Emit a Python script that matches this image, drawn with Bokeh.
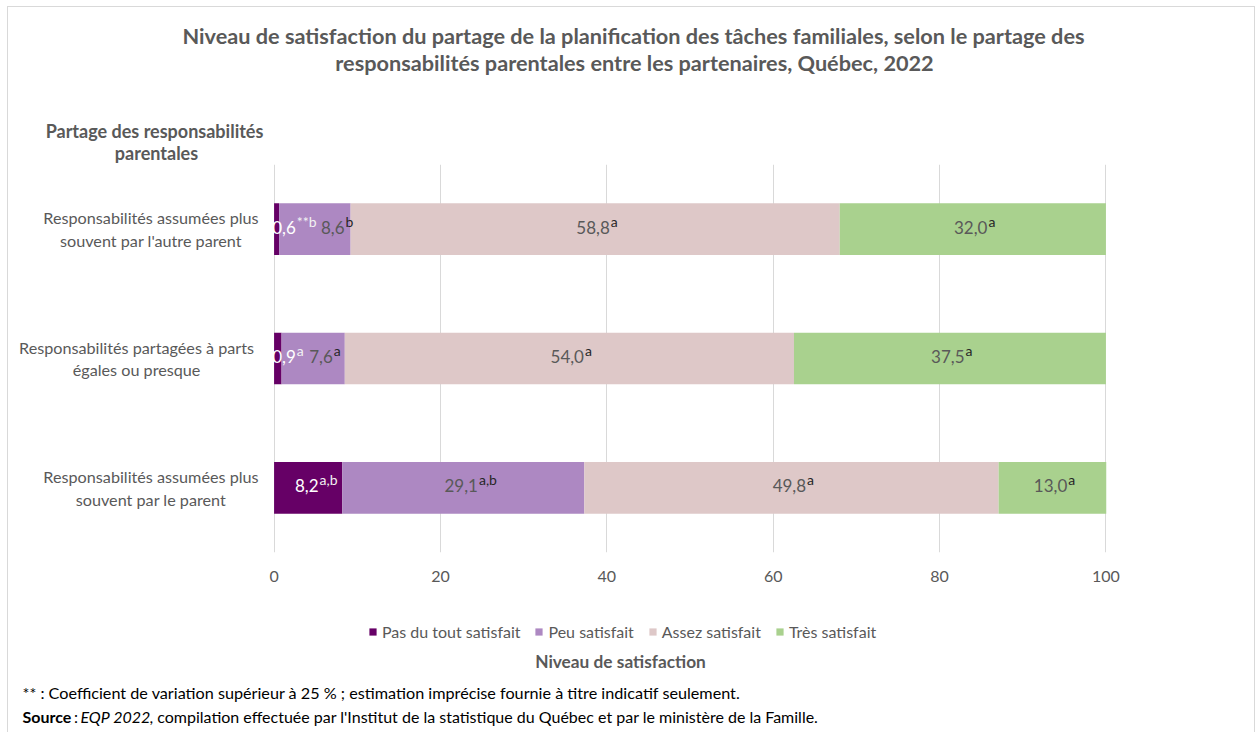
from bokeh.plotting import figure
from bokeh.layouts import column, row
from bokeh.models import (FactorRange, Range1d, Legend, LegendItem,
                          ColumnDataSource, FixedTicker)
from bokeh.core.properties import value
from bokeh.embed import file_html
from bokeh.resources import INLINE

# ---------------- data ----------------
categories = ["Responsabilités assumées plus\nsouvent par l'autre parent",
              "Responsabilités partagées à parts\négales ou presque",
              "Responsabilités assumées plus\nsouvent par le parent"]
levels = ["Pas du tout satisfait", "Peu satisfait", "Assez satisfait", "Très satisfait"]
pas_du_tout = [0.6, 0.9, 8.2]
peu = [8.6, 7.6, 29.1]
assez = [58.8, 54.0, 49.8]
tres = [32.0, 37.5, 13.0]
sup_pas = ["**b", "a", "a,b"]
sup_peu = ["b", "a", "a,b"]
sup_assez = ["a", "a", "a"]
sup_tres = ["a", "a", "a"]
x_ticks = [0, 20, 40, 60, 80, 100]

title_lines = ["Niveau de satisfaction du partage de la planification des tâches familiales, selon le partage des",
               "responsabilités parentales entre les partenaires, Québec, 2022"]
y_title_lines = ["Partage des responsabilités", "parentales"]
x_title = "Niveau de satisfaction"
note = "** : Coefficient de variation supérieur à 25 % ; estimation imprécise fournie à titre indicatif seulement."
source_parts = ["Source", ":", "EQP 2022",
                ", compilation effectuée par l'Institut de la statistique du Québec et par le ministère de la Famille."]

colors = ["#660066", "#AD88C2", "#DEC8C8", "#A9D18E"]
label_colors = ["#FFFFFF", "#595959", "#595959", "#595959"]
sup_colors = ["#F2F2F2", "#262626", "#262626", "#262626"]

FONT = "Lato"
GRAY = "#595959"

# ---------------- page geometry (pixels) ----------------
W, H = 1258, 732
FL, FR, FT, FB = 273, 1106, 164, 552     # plot frame edges on the page
MID_BOTTOM = 604                          # bottom of the middle row
PAD_L = 12                                # room for the "0" tick label
LW = FL - PAD_L                           # width of the category-label strip
CAT_RIGHT = 255                           # right edge of the category label blocks
CAT_SIZE = 16.2

def blank(width, height, x_range, y_range, mb_bottom=0):
    f = figure(width=width, height=height, output_backend="svg", toolbar_location=None,
               x_range=x_range, y_range=y_range, x_axis_location=None, y_axis_location=None,
               min_border_left=0, min_border_right=0, min_border_top=0,
               min_border_bottom=mb_bottom)
    f.outline_line_color = None
    f.grid.visible = False
    f.border_fill_color = None
    f.background_fill_color = None
    return f

# ---------------- main chart ----------------
p = figure(width=W - LW, height=MID_BOTTOM - FT, output_backend="svg", toolbar_location=None,
           y_range=FactorRange(factors=list(reversed(categories))),
           x_range=Range1d(-0.07, 100.07),
           min_border_left=PAD_L, min_border_right=W - FR,
           min_border_top=0, min_border_bottom=MID_BOTTOM - FB)
p.outline_line_color = None
p.border_fill_color = None
p.background_fill_color = None

series = [pas_du_tout, peu, assez, tres]
sups = [sup_pas, sup_peu, sup_assez, sup_tres]
keys = ["s0", "s1", "s2", "s3"]
src = ColumnDataSource(dict(cat=categories, **{k: v for k, v in zip(keys, series)}))
rends = p.hbar_stack(keys, y="cat", height=0.40, color=colors, source=src, line_color=None)

p.xaxis.ticker = FixedTicker(ticks=x_ticks)
p.xaxis.axis_line_color = None
p.xaxis.major_tick_line_color = None
p.xaxis.minor_tick_line_color = None
p.xaxis.major_label_text_font = FONT
p.xaxis.major_label_text_font_size = "16px"
p.xaxis.major_label_text_color = GRAY
p.xaxis.major_label_standoff = 12
p.yaxis.visible = False
p.xgrid.grid_line_color = "#D9D9D9"
p.ygrid.grid_line_color = None

# data labels: value centred on its segment, pushed right if it would overlap
px_per_unit = (FR - FL) / 100.0
MAIN_SIZE, SUP_SIZE = 17, 14
def est_w(s, size):
    w = 0.0
    for ch in s:
        if ch.isdigit():
            w += 0.50 * size
        elif ch == ",":
            w += 0.22 * size
        elif ch == "*":
            w += 0.42 * size
        else:
            w += 0.52 * size
    return w

main_x, main_y, main_t, main_c = [], [], [], []
sup_x, sup_y, sup_t, sup_c = [], [], [], []
for i, cat in enumerate(categories):
    left = 0.0
    limit_px = 1.0
    for j in range(4):
        v = series[j][i]
        txt = f"{v:.1f}".replace(".", ",")
        mw = est_w(txt, MAIN_SIZE)
        sw = est_w(sups[j][i], SUP_SIZE)
        center_px = (left + v / 2) * px_per_unit
        start_px = max(center_px - mw / 2, limit_px)
        anchor = (start_px + mw) / px_per_unit
        main_x.append(anchor); main_y.append(cat); main_t.append(txt); main_c.append(label_colors[j])
        sup_x.append(anchor); sup_y.append(cat); sup_t.append(sups[j][i]); sup_c.append(sup_colors[j])
        limit_px = start_px + mw + sw + 9
        left += v

p.text(x=main_x, y=main_y, text=main_t, text_color=main_c,
       text_font=value(FONT), text_font_size=f"{MAIN_SIZE}px",
       text_align="right", text_baseline="middle", y_offset=-2)
p.text(x=sup_x, y=sup_y, text=sup_t, text_color=sup_c,
       text_font=value(FONT), text_font_size=f"{SUP_SIZE}px",
       text_align="left", text_baseline="middle", x_offset=1, y_offset=-8)

# ---------------- category labels (share the chart's categorical scale) ----------------
# each two-line block ends at CAT_RIGHT, its lines centred within the block
cat_x = [CAT_RIGHT - max(len(s) for s in c.split("\n")) * 0.445 * CAT_SIZE / 2 for c in categories]
lf = blank(LW, MID_BOTTOM - FT, Range1d(0, LW), p.y_range, mb_bottom=MID_BOTTOM - FB)
lf.text(x=cat_x, y=categories, text=categories,
        text_font=value(FONT), text_font_size=f"{CAT_SIZE}px", text_color=GRAY,
        text_align="center", text_baseline="middle", text_line_height=1.2)

# ---------------- top band: title and y-axis title ----------------
top = blank(W, FT, Range1d(0, W), Range1d(FT, 0))
top.text(x=[633, 634], y=[35, 62], text=title_lines,
         text_font=value(FONT), text_font_size="21.7px", text_font_style="bold",
         text_color=GRAY, text_align="center", text_baseline="middle")
top.text(x=[154, 156], y=[130, 152], text=y_title_lines,
         text_font=value(FONT), text_font_size="18px", text_font_style="bold",
         text_color=GRAY, text_align="center", text_baseline="middle")

# ---------------- bottom band: legend, x-axis title, notes ----------------
bot = blank(W, H - MID_BOTTOM, Range1d(0, W), Range1d(H, MID_BOTTOM))
nan = float("nan")
dummy = [bot.hbar(y=[nan], right=[nan], height=1, fill_color=c, line_color=None) for c in colors]
legend = Legend(items=[LegendItem(label=levels[k], renderers=[dummy[k]]) for k in range(4)],
                orientation="horizontal", location=(368, H - 641),
                border_line_color=None, background_fill_alpha=0,
                label_text_font=FONT, label_text_font_size="16px", label_text_color=GRAY,
                glyph_width=9, glyph_height=9, label_standoff=5, spacing=14,
                padding=0, margin=0)
bot.add_layout(legend, "center")
bot.text(x=[620], y=[661], text=[x_title], text_font=value(FONT), text_font_size="17.3px",
         text_font_style="bold", text_color=GRAY, text_align="center", text_baseline="middle")
bot.text(x=[22], y=[692], text=[note], text_font=value(FONT), text_font_size="16.2px",
         text_color="#000000", text_align="left", text_baseline="middle")
styles = ["bold", "normal", "italic", "normal"]
xs = [22, 73.5, 80, 149]
for t, s, x in zip(source_parts, styles, xs):
    bot.text(x=[x], y=[716], text=[t], text_font=value(FONT), text_font_size="16px",
             text_font_style=s, text_color="#000000", text_align="left", text_baseline="middle")

line = "linear-gradient(#D9D9D9,#D9D9D9)"
layout = column(top, row(lf, p), bot,
                styles={"background-image": f"{line}, {line}, {line}",
                        "background-size": "1px 100%, 1248px 1px, 1px 100%",
                        "background-position": "7px 6px, 7px 6px, 1254px 6px",
                        "background-repeat": "no-repeat"})

open("out.html", "w").write(file_html(layout, INLINE))
